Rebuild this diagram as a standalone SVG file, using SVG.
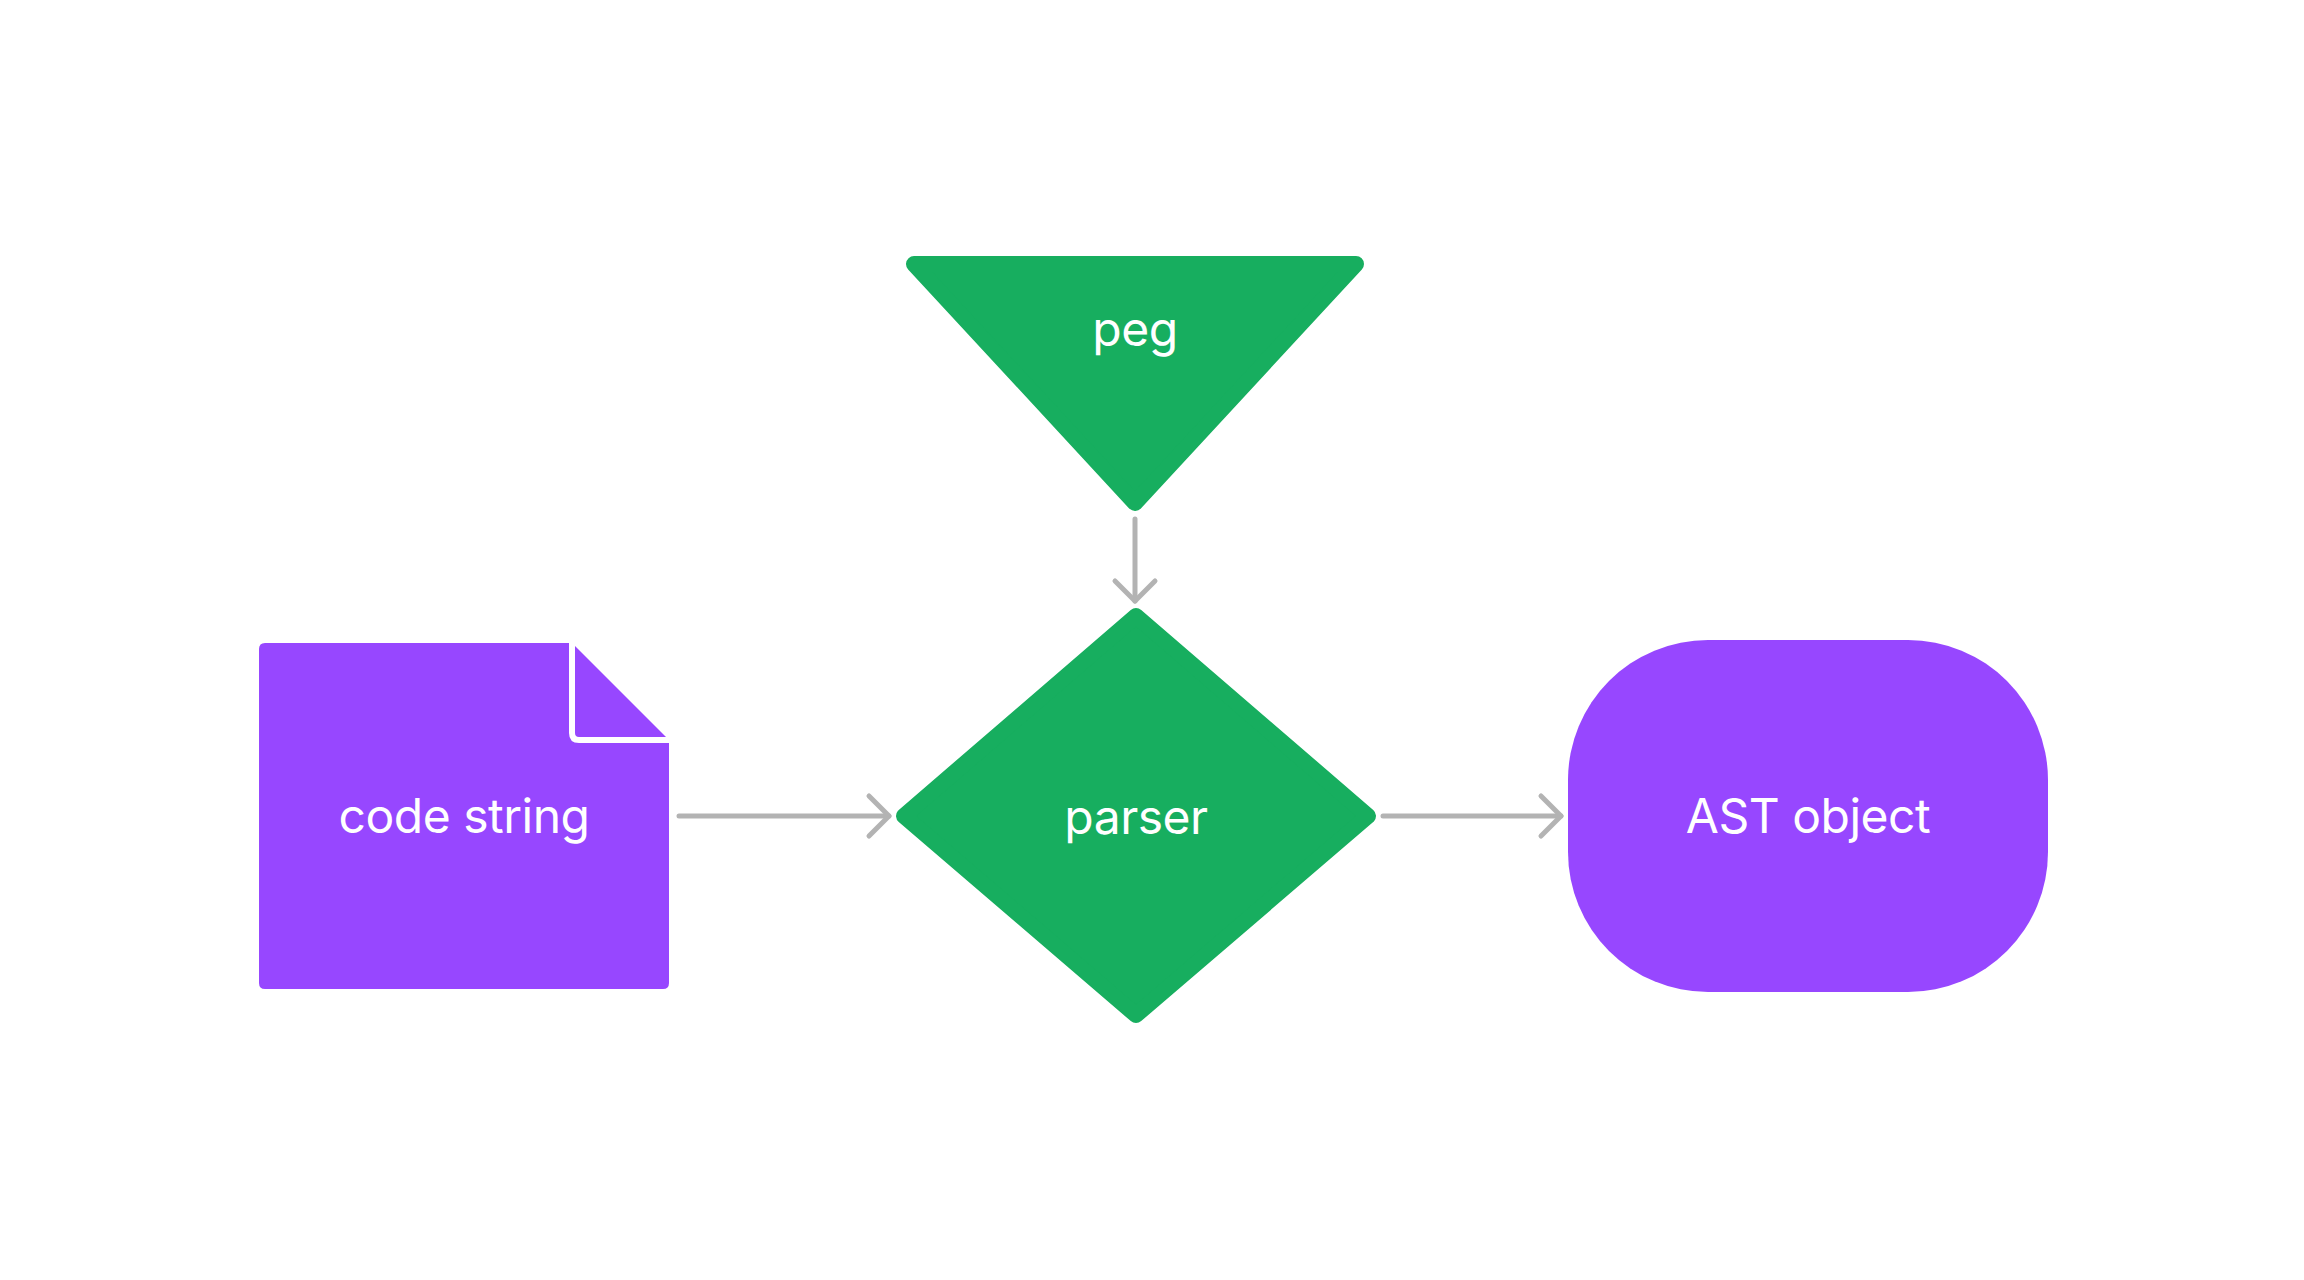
<svg xmlns="http://www.w3.org/2000/svg" width="2304" height="1280" viewBox="0 0 2304 1280">
  <style>
    .lbl { font-family: Inter, "Liberation Sans", sans-serif; font-size: 48px; letter-spacing: -0.5px; fill: #ffffff; text-anchor: middle; }
    .green { fill: #17ae5f; stroke: #17ae5f; stroke-width: 16; stroke-linejoin: round; }
    .purple { fill: #9747ff; }
    .conn { fill: none; stroke: #b3b3b3; stroke-width: 5; stroke-linecap: round; }
  </style>
  <defs>
    <marker id="arr" markerUnits="userSpaceOnUse" markerWidth="60" markerHeight="60" viewBox="-30 -30 60 60" refX="0" refY="0" orient="auto" overflow="visible">
      <path d="M-20,-20 L0,0 L-20,20" fill="none" stroke="#b3b3b3" stroke-width="5" stroke-linecap="round" stroke-linejoin="round"/>
    </marker>
  </defs>
  <rect width="2304" height="1280" fill="#ffffff"/>
  <g id="code-string">
    <path class="purple" d="M265,643 H572 L669,740 V983 Q669,989 663,989 H265 Q259,989 259,983 V649 Q259,643 265,643 Z"/>
    <path d="M572,640 V733 Q572,740 579,740 H672" fill="none" stroke="#ffffff" stroke-width="6"/>
    <text class="lbl" x="464" y="833">code string</text>
  </g>
  <g id="peg">
    <polygon class="green" points="914,264 1356,264 1135,503"/>
    <text class="lbl" x="1135" y="346">peg</text>
  </g>
  <g id="parser">
    <polygon class="green" points="1136,616 1368,816 1136,1015 904,816"/>
    <text class="lbl" x="1136" y="834">parser</text>
  </g>
  <g id="ast-object">
    <rect class="purple" x="1568" y="640" width="480" height="352" rx="140" ry="140"/>
    <text class="lbl" x="1808" y="833">AST object</text>
  </g>
  <g id="connectors">
    <path class="conn" d="M1135,519 V601" marker-end="url(#arr)"/>
    <path class="conn" d="M679,816 H889" marker-end="url(#arr)"/>
    <path class="conn" d="M1383,816 H1561" marker-end="url(#arr)"/>
  </g>
</svg>
